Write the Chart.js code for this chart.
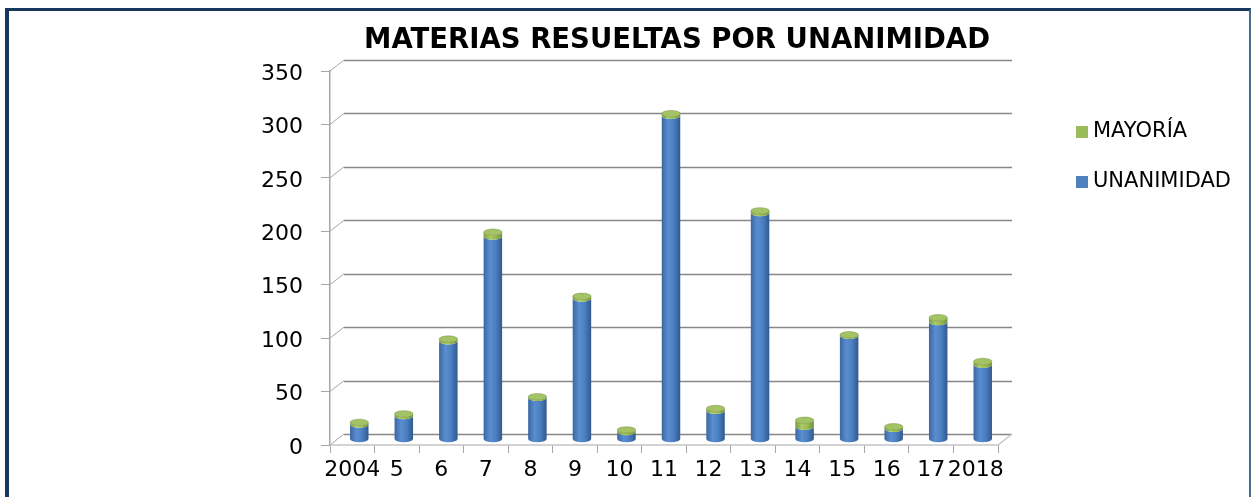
<!DOCTYPE html>
<html>
<head>
<meta charset="utf-8">
<script src="https://cdn.jsdelivr.net/npm/chart.js@4.4.0/dist/chart.umd.min.js"></script>
<style>
  html, body { margin: 0; padding: 0; background: #fff; }
  #wrap { position: relative; width: 1252px; height: 497px; overflow: hidden; }
  #marco { position: absolute; left: 5px; top: 8px; width: 1240px; height: 520px;
           border-left: 4px solid #17375e; border-top: 3px solid #17375e; border-right: 2px solid #4a6a96; }
  canvas { position: absolute; left: 0; top: 0; }
</style>
</head>
<body>
<div id="wrap">
  <div id="marco"></div>
  <canvas id="grafico" width="1252" height="497"></canvas>
</div>
<script>
const anios = ['2004', '5', '6', '7', '8', '9', '10', '11', '12', '13', '14', '15', '16', '17', '2018'];
const unanimidad = [14, 22, 92, 190, 39, 132, 7, 303, 27, 212, 12, 97, 10, 110, 70];
const mayoria = [2, 2, 2, 4, 1, 2, 2, 2, 2, 2, 6, 1, 2, 4, 3];
const ejeMin = 0;
const ejeMax = 350;
const ejePaso = 50;

const fuente = "'DejaVu Sans', Verdana, sans-serif";
const DX = 14, DY = -11;   // profundidad del "3D"

const tonosAzul = ['#3a67a2', '#5a8ed0', '#4a7fc0', '#31598f'];
const tonosVerde = ['#7d9b3f', '#abcb63', '#98b954', '#73903a'];

function linea(ctx, x1, y1, x2, y2) {
    ctx.beginPath();
    ctx.moveTo(x1, y1);
    ctx.lineTo(x2, y2);
    ctx.stroke();
}

function cilindro(ctx, x, arriba, abajo, ancho, tonos, tapa) {
    const rx = ancho / 2, ry = 3.2;
    const g = ctx.createLinearGradient(x - rx, 0, x + rx, 0);
    g.addColorStop(0, tonos[0]);
    g.addColorStop(0.35, tonos[1]);
    g.addColorStop(0.65, tonos[2]);
    g.addColorStop(1, tonos[3]);
    ctx.fillStyle = g;
    ctx.beginPath();
    ctx.moveTo(x - rx, arriba);
    ctx.lineTo(x - rx, abajo);
    ctx.ellipse(x, abajo, rx, ry, 0, Math.PI, 0, true);
    ctx.lineTo(x + rx, arriba);
    ctx.ellipse(x, arriba, rx, ry, 0, 0, Math.PI, false);
    ctx.closePath();
    ctx.fill();
    if (tapa) {
        ctx.fillStyle = tapa;
        ctx.beginPath();
        ctx.ellipse(x, arriba, rx, ry, 0, 0, Math.PI * 2);
        ctx.fill();
        ctx.strokeStyle = 'rgba(90,120,40,0.6)';
        ctx.lineWidth = 0.6;
        ctx.stroke();
    }
}

const plugin3d = {
    id: 'plugin3d',
    afterLayout(chart) {
        chart.titleBlock.left += 13;
        chart.titleBlock.right += 13;
    },
    beforeDatasetsDraw(chart) {
        const { ctx, chartArea: a, scales: { y } } = chart;
        ctx.save();
        // pared del fondo
        ctx.lineWidth = 1;
        ctx.strokeStyle = '#a6a6a6';
        y.ticks.forEach(t => {
            const py = y.getPixelForValue(t.value);
            linea(ctx, a.left, py, a.left + DX, py + DY);
        });
        ctx.strokeStyle = '#878787';
        ctx.lineWidth = 1.5;
        y.ticks.forEach(t => {
            const py = Math.round(y.getPixelForValue(t.value) + DY) + 0.5;
            linea(ctx, a.left + DX, py, a.right + DX, py);
        });
        // piso
        ctx.strokeStyle = '#c4c4c4';
        ctx.lineWidth = 1.5;
        linea(ctx, a.left, a.bottom, a.right, a.bottom);
        linea(ctx, a.right, a.bottom, a.right + DX, a.bottom + DY);

        // cilindros
        ctx.translate(DX / 2, DY / 2);
        const mU = chart.getDatasetMeta(0);
        const mM = chart.getDatasetMeta(1);
        mU.data.forEach((el, i) => {
            const em = mM.data[i];
            cilindro(ctx, el.x, el.y, el.base, el.width, tonosAzul, null);
            cilindro(ctx, em.x, em.y, em.base, em.width, tonosVerde, '#a3c364');
        });
        ctx.restore();
        return false;
    },
    afterDraw(chart) {
        const { ctx, chartArea: a } = chart;
        const items = chart.data.datasets.slice().reverse();
        ctx.save();
        ctx.font = '21px ' + fuente;
        ctx.textBaseline = 'middle';
        items.forEach((ds, k) => {
            const cy = a.top + 61 + k * 50;
            const lx = a.right + 78;
            ctx.fillStyle = ds.backgroundColor;
            ctx.fillRect(lx, cy - 6, 12, 12);
            ctx.fillStyle = '#000';
            ctx.fillText(ds.label, lx + 17, cy);
        });
        ctx.restore();
    }
};

new Chart(document.getElementById('grafico'), {
    type: 'bar',
    data: {
        labels: anios,
        datasets: [
            { label: 'UNANIMIDAD', data: unanimidad, backgroundColor: '#4f81bd' },
            { label: 'MAYORÍA', data: mayoria, backgroundColor: '#9bbb59' }
        ]
    },
    options: {
        responsive: false,
        animation: false,
        layout: { padding: { left: 0, right: 254, top: 0, bottom: 0 } },
        datasets: { bar: { barPercentage: 0.5, categoryPercentage: 0.83 } },
        plugins: {
            legend: { display: false },
            tooltip: { enabled: false },
            title: {
                display: true,
                fullSize: false,
                text: 'MATERIAS RESUELTAS POR UNANIMIDAD',
                color: '#000',
                font: { family: fuente, size: 27.5, weight: 'bold' },
                padding: { top: 24, bottom: 14 }
            }
        },
        scales: {
            x: {
                stacked: true,
                afterFit(s) { s.height = 52; },
                grid: { offset: true, drawOnChartArea: false, drawTicks: true, tickLength: 8, color: '#a6a6a6' },
                border: { display: false },
                ticks: { color: '#000', font: { family: fuente, size: 22 }, padding: 4, maxRotation: 0, autoSkip: false }
            },
            y: {
                stacked: true,
                min: ejeMin,
                max: ejeMax,
                afterFit(s) { s.width = 330; },
                grid: { drawOnChartArea: false, drawTicks: true, tickLength: 9, color: '#a6a6a6' },
                border: { display: true, color: '#a6a6a6', width: 1.5 },
                ticks: { stepSize: ejePaso, color: '#000', font: { family: fuente, size: 22 }, padding: 18, labelOffset: 3 }
            }
        }
    },
    plugins: [plugin3d]
});
</script>
</body>
</html>
